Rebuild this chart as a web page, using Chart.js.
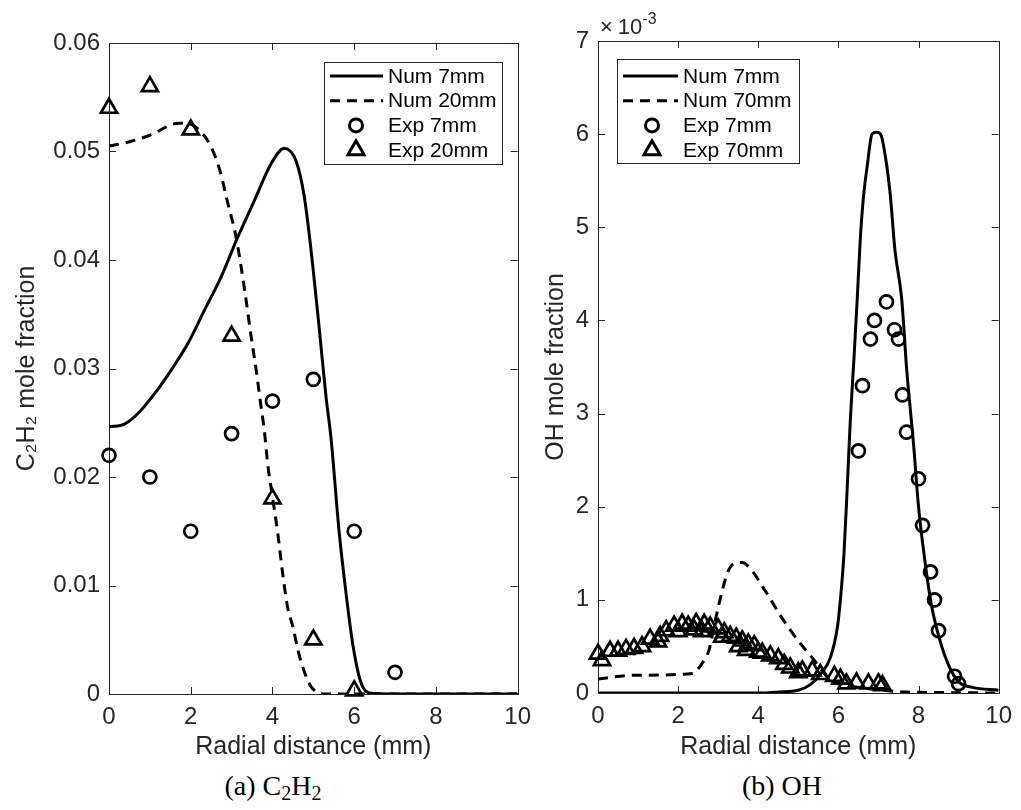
<!DOCTYPE html>
<html>
<head>
<meta charset="utf-8">
<title>C2H2 and OH radial profiles</title>
<script src="https://cdn.jsdelivr.net/npm/chart.js@4.4.1/dist/chart.umd.min.js"></script>
<style>
  body { margin: 0; background: #fff; }
  #wrap { position: relative; width: 1021px; height: 810px; overflow: hidden; }
  canvas { position: absolute; top: 0; }
  #c2h2 { left: 0; }
  #oh { left: 530px; }
  .cap { position: absolute; top: 770px; line-height: 32px; font-family: 'Liberation Serif', 'DejaVu Serif', serif; font-size: 28px; color: #000; transform: translateX(-50%); white-space: nowrap; }
  .cap sub { font-size: 20px; vertical-align: -5px; line-height: 0; }
  #expo { position: absolute; left: 600px; top: 15px; line-height: 24px; font-family: 'Liberation Sans', 'DejaVu Sans', sans-serif; font-size: 22px; color: #262626; }
  #expo span { margin-right: 5px; }
  #expo sup { font-size: 16px; vertical-align: 10px; line-height: 0; }
</style>
</head>
<body>
<div id="wrap">
  <canvas id="c2h2" width="540" height="762"></canvas>
  <canvas id="oh" width="491" height="762"></canvas>
  <div id="expo"><span>&times;</span>10<sup>-3</sup></div>
  <div class="cap" style="left:273px">(a) C<sub>2</sub>H<sub>2</sub></div>
  <div class="cap" style="left:782px">(b) OH</div>
</div>
<script>
// radial distance ticks (mm)
const xTicks = [0, 2, 4, 6, 8, 10];

// (a) C2H2 mole fraction
const c2h2YTicks = [0, 0.01, 0.02, 0.03, 0.04, 0.05, 0.06];
const c2h2NumX7 = [0, 0.39, 0.72, 1.12, 1.53, 1.93, 2.34, 2.75, 3.15, 3.56, 3.97, 4.29, 4.58, 4.78, 4.98, 5.15, 5.31, 5.43, 5.63, 5.8, 5.96, 6.16, 6.37, 7, 8, 9, 10];
const c2h2Num7 = [0.0246, 0.0249, 0.0259, 0.0277, 0.0299, 0.0323, 0.0354, 0.0385, 0.0421, 0.0455, 0.0489, 0.0503, 0.0491, 0.0458, 0.0397, 0.0335, 0.0274, 0.0237, 0.015, 0.0093, 0.0047, 0.0011, 0.0001, 0, 0, 0, 0];
const c2h2NumX20 = [0, 0.5, 1, 1.7, 2, 2.3, 2.5, 2.71, 2.91, 3.11, 3.32, 3.48, 3.6, 3.72, 3.8, 3.89, 4, 4.13, 4.25, 4.37, 4.5, 4.62, 4.74, 4.94, 5.3, 6, 7, 8, 9, 10];
const c2h2Num20 = [0.0505, 0.0509, 0.0515, 0.0526, 0.0525, 0.0516, 0.0504, 0.0483, 0.0452, 0.0421, 0.0372, 0.0329, 0.0299, 0.0265, 0.0243, 0.021, 0.0182, 0.0148, 0.0111, 0.008, 0.0062, 0.0041, 0.0025, 0.0007, 0, 0, 0, 0, 0, 0];
const c2h2ExpX7 = [0, 1, 2, 3, 4, 5, 6, 7];
const c2h2Exp7 = [0.022, 0.020, 0.015, 0.024, 0.027, 0.029, 0.015, 0.002];
const c2h2ExpX20 = [0, 1, 2, 3, 4, 5, 6];
const c2h2Exp20 = [0.054, 0.056, 0.052, 0.033, 0.018, 0.005, 0.0003];

// (b) OH mole fraction, in units of 1e-3
const ohYTicks = [0, 1, 2, 3, 4, 5, 6, 7];
const ohNumX7 = [0, 1, 2, 3, 4, 4.5, 5, 5.3, 5.55, 5.8, 5.98, 6.06, 6.14, 6.22, 6.3, 6.39, 6.47, 6.55, 6.62, 6.72, 6.84, 6.95, 7.05, 7.13, 7.29, 7.41, 7.58, 7.7, 7.88, 8, 8.15, 8.32, 8.53, 8.77, 9, 9.35, 10];
const ohNum7 = [0, 0, 0, 0, 0, 0.01, 0.03, 0.09, 0.2, 0.38, 0.72, 1.05, 1.5, 2.2, 2.95, 3.6, 4.23, 4.9, 5.3, 5.66, 6.0, 6.02, 6.0, 5.87, 5.37, 4.76, 4.23, 3.5, 2.65, 2.0, 1.45, 0.95, 0.57, 0.28, 0.12, 0.06, 0.03];
const ohNumX70 = [0, 0.86, 2.35, 2.6, 2.77, 3.0, 3.26, 3.5, 3.6, 3.83, 4.17, 4.57, 4.98, 5.4, 5.73, 6.06, 6.9, 7.7, 8.5, 10];
const ohNum70 = [0.15, 0.19, 0.21, 0.32, 0.46, 0.92, 1.32, 1.4, 1.4, 1.32, 1.1, 0.82, 0.57, 0.35, 0.17, 0.1, 0.04, 0.01, 0.005, 0];
const ohExpX7 = [6.5, 6.6, 6.8, 6.9, 7.2, 7.4, 7.5, 7.6, 7.7, 8.0, 8.1, 8.3, 8.4, 8.5, 8.9, 9.0];
const ohExp7 = [2.6, 3.3, 3.8, 4.0, 4.2, 3.9, 3.8, 3.2, 2.8, 2.3, 1.8, 1.3, 1.0, 0.67, 0.18, 0.1];
const ohExpX70 = [0, 0.1, 0.3, 0.5, 0.7, 0.9, 1.1, 1.3, 1.5, 1.55, 1.7, 1.9, 2.0, 2.1, 2.25, 2.4, 2.45, 2.6, 2.65, 2.8, 3.0, 3.1, 3.15, 3.3, 3.45, 3.5, 3.6, 3.7, 3.75, 3.9, 4.0, 4.1, 4.3, 4.5, 4.65, 4.8, 5.0, 5.1, 5.35, 5.55, 5.9, 6.05, 6.2, 6.45, 6.75, 7.0, 7.1];
const ohExp70 = [0.42, 0.35, 0.45, 0.45, 0.47, 0.48, 0.5, 0.58, 0.55, 0.61, 0.67, 0.72, 0.66, 0.74, 0.72, 0.68, 0.75, 0.66, 0.74, 0.71, 0.69, 0.6, 0.65, 0.61, 0.59, 0.5, 0.56, 0.46, 0.53, 0.51, 0.44, 0.43, 0.4, 0.37, 0.31, 0.27, 0.22, 0.24, 0.24, 0.2, 0.18, 0.15, 0.1, 0.11, 0.1, 0.1, 0.08];

const sans = "'Liberation Sans', 'DejaVu Sans', sans-serif";
const axisColor = '#262626';

const pts = (xs, ys) => xs.map((x, i) => ({ x, y: ys[i] }));

function lineSet(label, xs, ys, dash) {
  return {
    label, data: pts(xs, ys), showLine: true, borderColor: '#000', borderWidth: 3,
    borderDash: dash, pointRadius: 0, cubicInterpolationMode: 'monotone', fill: false
  };
}

function markSet(label, xs, ys, style, r) {
  return {
    label, data: pts(xs, ys), showLine: false, pointStyle: style, pointRadius: r,
    pointBorderWidth: 2.7, pointBorderColor: '#000', pointBackgroundColor: 'rgba(0,0,0,0)', clip: false
  };
}

// matlab style box with inward ticks
const boxPlugin = {
  id: 'box',
  beforeDatasetsDraw(chart) {
    const { ctx, chartArea: a, scales: { x, y } } = chart;
    ctx.save();
    ctx.strokeStyle = axisColor;
    ctx.lineWidth = 1;
    ctx.strokeRect(Math.round(a.left) + 0.5, Math.round(a.top) + 0.5, Math.round(a.right - a.left), Math.round(a.bottom - a.top));
    ctx.beginPath();
    x.ticks.forEach(t => {
      const px = Math.round(x.getPixelForValue(t.value)) + 0.5;
      ctx.moveTo(px, a.bottom); ctx.lineTo(px, a.bottom - 7);
      ctx.moveTo(px, a.top); ctx.lineTo(px, a.top + 7);
    });
    y.ticks.forEach(t => {
      const py = Math.round(y.getPixelForValue(t.value)) + 0.5;
      ctx.moveTo(a.left, py); ctx.lineTo(a.left + 7, py);
      ctx.moveTo(a.right, py); ctx.lineTo(a.right - 7, py);
    });
    ctx.stroke();
    ctx.restore();
  }
};

const legendPlugin = {
  id: 'boxLegend',
  afterDraw(chart, args, o) {
    const { ctx } = chart;
    ctx.save();
    ctx.fillStyle = '#fff';
    ctx.fillRect(o.x0, o.y0, o.w, o.h);
    ctx.strokeStyle = axisColor;
    ctx.lineWidth = 1;
    ctx.strokeRect(o.x0 + 0.5, o.y0 + 0.5, o.w, o.h);
    chart.data.datasets.forEach((ds, i) => {
      const cy = o.rowY + i * 24.7;
      ctx.strokeStyle = '#000';
      if (ds.showLine) {
        ctx.lineWidth = ds.borderWidth;
        ctx.setLineDash(ds.borderDash || []);
        ctx.beginPath();
        ctx.moveTo(o.lx0, cy);
        ctx.lineTo(o.lx1, cy);
        ctx.stroke();
        ctx.setLineDash([]);
      } else {
        ctx.fillStyle = 'rgba(0,0,0,0)';
        Chart.helpers.drawPoint(ctx, { pointStyle: ds.pointStyle, radius: ds.pointRadius, borderWidth: ds.pointBorderWidth, rotation: 0 }, o.mx, cy);
      }
      ctx.fillStyle = '#000';
      ctx.font = '21px ' + sans;
      ctx.textBaseline = 'middle';
      ctx.fillText(ds.label, o.tx, cy + 1);
    });
    ctx.restore();
  }
};

function makeChart(id, sets, o) {
  return new Chart(document.getElementById(id), {
    type: 'scatter',
    data: { datasets: sets },
    options: {
      responsive: false,
      animation: false,
      layout: { padding: { top: o.top, right: o.right, left: 0, bottom: 0 } },
      plugins: { legend: { display: false }, tooltip: { enabled: false }, boxLegend: o.legend },
      scales: {
        x: {
          type: 'linear', min: 0, max: 10,
          afterBuildTicks: s => { s.ticks = xTicks.map(v => ({ value: v })); },
          afterFit: s => { s.height = 762 - o.bottom; },
          grid: { display: false, drawTicks: false },
          border: { display: false },
          ticks: { padding: 9, color: axisColor, maxRotation: 0, font: { family: sans, size: 24 } },
          title: { display: true, text: 'Radial distance (mm)', color: axisColor, padding: 0, font: { family: sans, size: 25 } }
        },
        y: {
          type: 'linear', min: 0, max: o.ymax,
          afterBuildTicks: s => { s.ticks = o.yTicks.map(v => ({ value: v })); },
          afterFit: s => { s.width = o.yw; },
          grid: { display: false, drawTicks: false },
          border: { display: false },
          ticks: { padding: 9, color: axisColor, font: { family: sans, size: 24 }, callback: o.fmt },
          title: { display: true, text: o.ytitle, color: axisColor, padding: { top: o.tpad, bottom: 0 }, font: { family: sans, size: 25 } }
        }
      }
    },
    plugins: [boxPlugin, legendPlugin]
  });
}

makeChart('c2h2', [
  lineSet('Num 7mm', c2h2NumX7, c2h2Num7, []),
  lineSet('Num 20mm', c2h2NumX20, c2h2Num20, [10, 7]),
  markSet('Exp 7mm', c2h2ExpX7, c2h2Exp7, 'circle', 6.5),
  markSet('Exp 20mm', c2h2ExpX20, c2h2Exp20, 'triangle', 9.3)
], {
  top: 43, right: 22, bottom: 694, yw: 109, tpad: 12, ymax: 0.06, yTicks: c2h2YTicks,
  fmt: v => v === 0 ? '0' : v.toFixed(2),
  ytitle: 'C\u2082H\u2082 mole fraction',
  legend: { x0: 324, y0: 62, w: 178, h: 102, rowY: 76, lx0: 330, lx1: 383, mx: 356, tx: 388 }
});

makeChart('oh', [
  lineSet('Num 7mm', ohNumX7, ohNum7, []),
  lineSet('Num 70mm', ohNumX70, ohNum70, [10, 7]),
  markSet('Exp 7mm', ohExpX7, ohExp7, 'circle', 6.5),
  markSet('Exp 70mm', ohExpX70, ohExp70, 'triangle', 9.3)
], {
  top: 41, right: 18, bottom: 693, yw: 68, tpad: 11, ymax: 7, yTicks: ohYTicks,
  fmt: v => String(v),
  ytitle: 'OH mole fraction',
  legend: { x0: 87, y0: 59, w: 182, h: 104, rowY: 76, lx0: 93, lx1: 148, mx: 122, tx: 153 }
});
</script>
</body>
</html>
